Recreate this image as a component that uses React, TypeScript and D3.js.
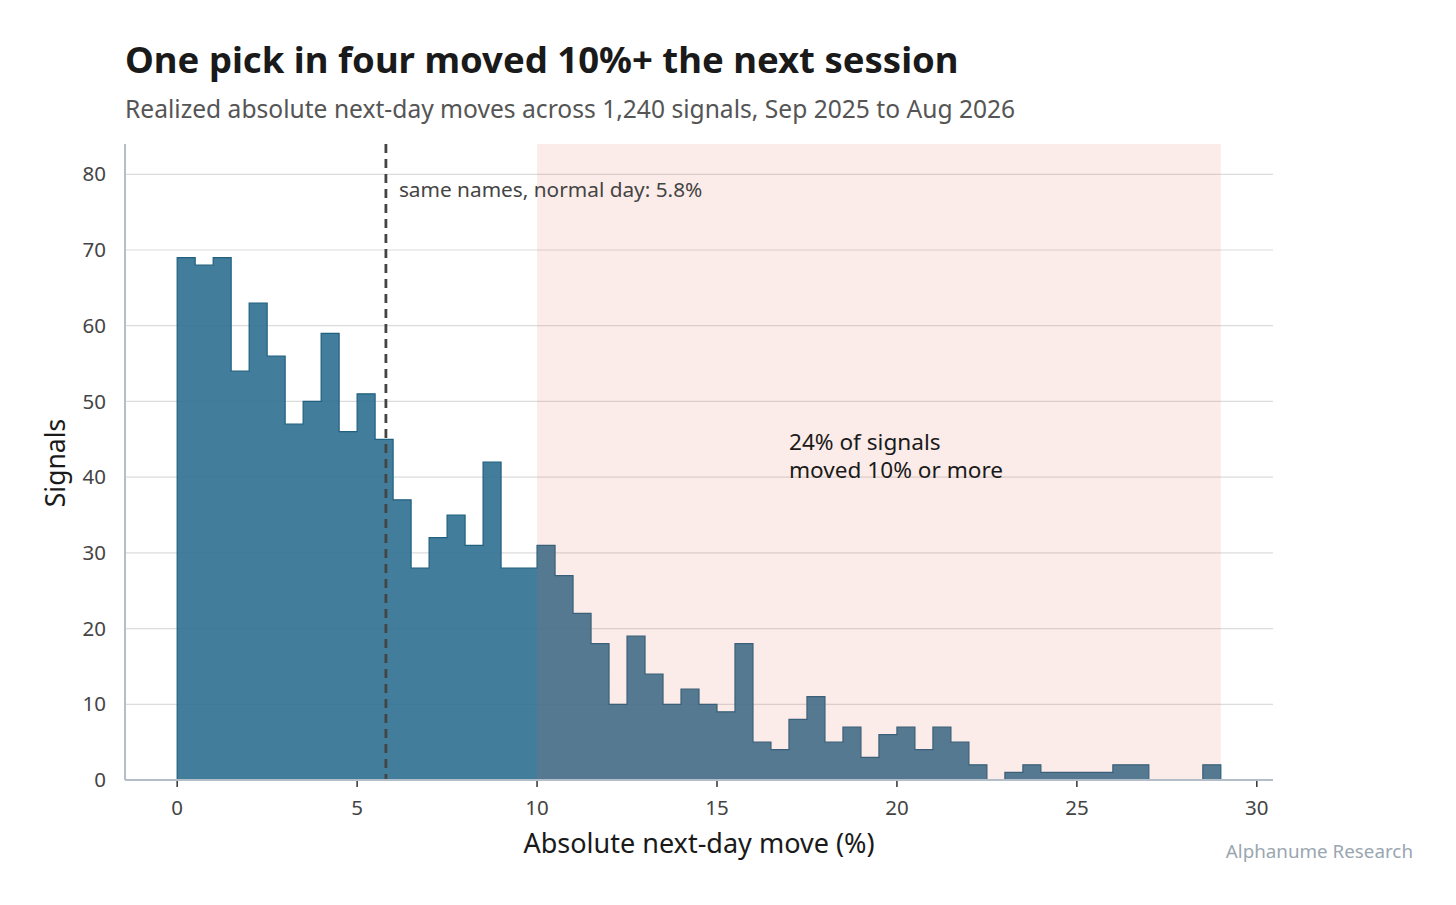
import { useMemo } from "react";
import * as d3 from "d3";

// histogram of absolute next-day moves, 0.5% bins starting at 0
const binStart = 0;
const binWidth = 0.5;
const counts = [
  69, 68, 69, 54, 63, 56, 47, 50, 59, 46,
  51, 45, 37, 28, 32, 35, 31, 42, 28, 28,
  31, 27, 22, 18, 10, 19, 14, 10, 12, 10,
  9, 18, 5, 4, 8, 11, 5, 7, 3, 6,
  7, 4, 7, 5, 2, 0, 1, 2, 1, 1,
  1, 1, 2, 2, 0, 0, 0, 2,
];
const xTicks = [0, 5, 10, 15, 20, 25, 30];
const yTicks = [0, 10, 20, 30, 40, 50, 60, 70, 80];
const normalDay = 5.8;
const bigMoveFrom = 10;
const bigMoveTo = 29;
const noteLines = ["24% of signals", "moved 10% or more"];

const W = 1456;
const H = 905;
const margin = { top: 144, right: 183, bottom: 125, left: 125 };
const FONT = "'Noto Sans', 'Open Sans', sans-serif";

export default function App() {
  const innerW = W - margin.left - margin.right;
  const innerH = H - margin.top - margin.bottom;

  const x = useMemo(
    () => d3.scaleLinear().domain([-1.45, 30.45]).range([0, innerW]),
    [innerW]
  );
  const y = useMemo(
    () => d3.scaleLinear().domain([0, 84]).range([innerH, 0]),
    [innerH]
  );

  // step outline of the histogram
  const pts: [number, number][] = [[binStart, 0]];
  counts.forEach((c, i) => {
    const x0 = binStart + i * binWidth;
    pts.push([x0, c], [x0 + binWidth, c]);
  });
  pts.push([binStart + counts.length * binWidth, 0]);
  const area = d3
    .line<[number, number]>()
    .x((d) => x(d[0]))
    .y((d) => y(d[1]))(pts);

  return (
    <svg
      width={W}
      height={H}
      style={{ position: "absolute", left: 0, top: 0, background: "#fff" }}
      fontFamily={FONT}
    >
      <text x={125} y={73} fontSize={36.5} fontWeight={700} fill="#1a1a1a">
        One pick in four moved 10%+ the next session
      </text>
      <text x={125} y={118} fontSize={24.6} fill="#555">
        Realized absolute next-day moves across 1,240 signals, Sep 2025 to Aug 2026
      </text>

      <g transform={`translate(${margin.left},${margin.top})`}>
        {/* grid */}
        {yTicks.slice(1).map((t) => (
          <line
            key={t}
            x1={0}
            x2={innerW}
            y1={y(t)}
            y2={y(t)}
            stroke="#dcdcdc"
            strokeWidth={1.2}
          />
        ))}

        {/* bars */}
        <path
          d={area ?? ""}
          fill="#2f6f91"
          fillOpacity={0.9}
          stroke="#22607f"
          strokeWidth={1.2}
        />

        {/* highlight band for 10%+ moves */}
        <rect
          x={x(bigMoveFrom)}
          y={0}
          width={x(bigMoveTo) - x(bigMoveFrom)}
          height={innerH}
          fill="#e8604c"
          fillOpacity={0.12}
        />

        {/* normal-day reference line */}
        <line
          x1={x(normalDay)}
          x2={x(normalDay)}
          y1={0}
          y2={innerH}
          stroke="#444"
          strokeWidth={2.8}
          strokeDasharray="9 6"
        />
        <text x={x(normalDay) + 13} y={53} fontSize={20.8} fill="#444">
          same names, normal day: 5.8%
        </text>

        {noteLines.map((s, i) => (
          <text
            key={s}
            x={x(17)}
            y={y(43.6) + i * 28}
            fontSize={22.6}
            fill="#1a1a1a"
          >
            {s}
          </text>
        ))}

        {/* spines */}
        <line x1={0} x2={0} y1={0} y2={innerH} stroke="#b4bec8" strokeWidth={2} />
        <line x1={0} x2={innerW} y1={innerH} y2={innerH} stroke="#b4bec8" strokeWidth={2} />

        {/* x ticks */}
        {xTicks.map((t) => (
          <g key={t} transform={`translate(${x(t)},${innerH})`}>
            <line y1={1} y2={7} stroke="#333" strokeWidth={1.5} />
            <text y={35} textAnchor="middle" fontSize={20.5} fill="#444">
              {t}
            </text>
          </g>
        ))}

        {/* y ticks */}
        {yTicks.map((t) => (
          <text
            key={t}
            x={-19}
            y={y(t)}
            dy="0.35em"
            textAnchor="end"
            fontSize={20.5}
            fill="#444"
          >
            {t}
          </text>
        ))}

        <text
          x={innerW / 2}
          y={innerH + 73}
          textAnchor="middle"
          fontSize={27}
          fill="#1a1a1a"
        >
          Absolute next-day move (%)
        </text>
        <text
          transform={`translate(${-60},${innerH / 2 + 1}) rotate(-90)`}
          textAnchor="middle"
          fontSize={26.5}
          fill="#1a1a1a"
        >
          Signals
        </text>
      </g>

      <text x={1413} y={858} textAnchor="end" fontSize={18.8} fill="#9aa6b0">
        Alphanume Research
      </text>
    </svg>
  );
}
